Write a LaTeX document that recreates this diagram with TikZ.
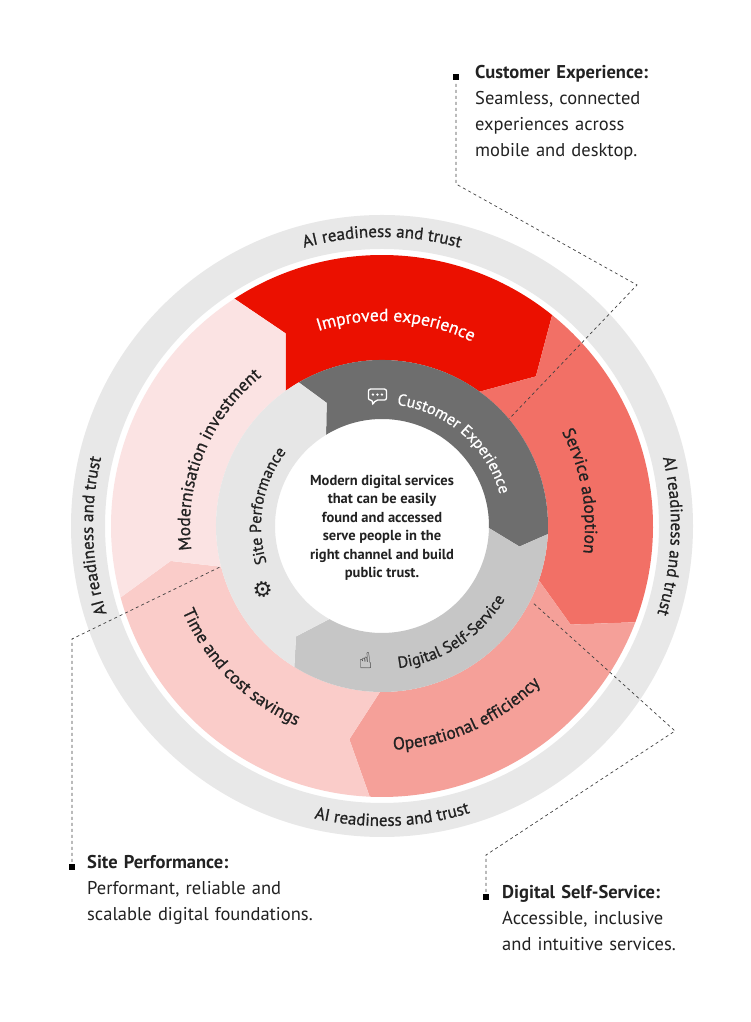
\documentclass[tikz,border=0pt]{standalone}
\usepackage{fontspec}
\setmainfont{PT Sans}
\newfontfamily\medfam{PT Sans}[FakeBold=0.9]
\newfontfamily\djv{DejaVu Sans}
\usetikzlibrary{decorations.text}
\definecolor{cImp}{HTML}{EB1000}
\definecolor{cSvc}{HTML}{F27066}
\definecolor{cOps}{HTML}{F5A099}
\definecolor{cTim}{HTML}{FACCC9}
\definecolor{cMod}{HTML}{FBE3E3}
\definecolor{cCus}{HTML}{6E6E6E}
\definecolor{cDig}{HTML}{C6C6C6}
\definecolor{cSit}{HTML}{E6E6E6}
\definecolor{cRing}{HTML}{E8E8E8}
\definecolor{cTxt}{HTML}{222222}
\newcommand{\ringf}{\medfam\fontsize{17}{20}\selectfont\color{cTxt}}
\newcommand{\midf}{\medfam\fontsize{17.5}{20}\selectfont\color{cTxt}}
\newcommand{\innf}{\medfam\fontsize{16}{19}\selectfont\color{cTxt}}
\tikzset{
  lead/.style={draw=black!75, line width=0.7pt, dash pattern=on 3pt off 3pt},
  bul/.style={fill=black, minimum size=6pt, inner sep=0pt, draw=none},
  note/.style={anchor=north west, align=left, inner sep=0pt, text width=230pt,
    font=\fontsize{18.5}{26}\selectfont, text=cTxt},
  curv/.style={decorate, decoration={text along path, text align=center, text={#1}}}
}
\begin{document}
\begin{tikzpicture}[x=1pt,y=1pt]
\useasboundingbox (0,0) rectangle (750,1022);
\fill[white] (0,0) rectangle (750,1022);
\begin{scope}[shift={(382,496)}]
  % outer ring
  \fill[cRing, even odd rule] (0,0) circle[radius=311pt] (0,0) circle[radius=277pt];
  % middle segments
  \fill[cImp] (123:271) arc[start angle=123,end angle=51.1,radius=271pt] -- (44.2:214.6) -- (54:166) arc[start angle=54,end angle=125.5,radius=166pt] -- (116.6:215.5) -- cycle;
  \fill[cSvc] (51.1:271) arc[start angle=51.1,end angle=-20.8,radius=271pt] -- (-27.6:212.9) -- (-19.1:166) arc[start angle=-19.1,end angle=54,radius=166pt] -- (44.2:214.6) -- cycle;
  \fill[cOps] (-20.8:271) arc[start angle=-20.8,end angle=-92.6,radius=271pt] -- (-98.7:215.8) -- (-90.7:166) arc[start angle=-90.7,end angle=-19.1,radius=166pt] -- (-27.6:212.9) -- cycle;
  \fill[cTim] (-92.6:271) arc[start angle=-92.6,end angle=-164.7,radius=271pt] -- (-170.6:214.2) -- (-165.8:166) arc[start angle=-165.8,end angle=-90.7,radius=166pt] -- (-98.7:215.8) -- cycle;
  \fill[cMod] (-164.7:271) arc[start angle=-164.7,end angle=-237,radius=271pt] -- (-243.4:215.5) -- (-234.5:166) arc[start angle=-234.5,end angle=-165.8,radius=166pt] -- (-170.6:214.2) -- cycle;
  % inner segments
  \fill[cCus] (120.1:166) arc[start angle=120.1,end angle=-2.8,radius=166pt] -- (-8.5:139) -- (-1.1:107) arc[start angle=-1.1,end angle=121.5,radius=107pt] -- (114.2:135) -- cycle;
  \fill[cDig] (-2.8:166) arc[start angle=-2.8,end angle=-121.9,radius=166pt] -- (-127.9:140) -- (-119.5:107) arc[start angle=-119.5,end angle=-1.1,radius=107pt] -- (-8.5:139) -- cycle;
  \fill[cSit] (-121.9:166) arc[start angle=-121.9,end angle=-239.9,radius=166pt] -- (-245.8:135) -- (-238.5:107) arc[start angle=-238.5,end angle=-119.5,radius=107pt] -- (-127.9:140) -- cycle;
  \fill[white] (0,0) circle[radius=106pt];
  % outer ring texts
  \path[curv={|\ringf|AI readiness and trust}] (130:289) arc[start angle=130,end angle=50,radius=289pt];
  \path[curv={|\ringf|AI readiness and trust}] (38:289) arc[start angle=38,end angle=-42,radius=289pt];
  \path[curv={|\ringf|AI readiness and trust}] (222:289) arc[start angle=222,end angle=142,radius=289pt];
  \path[curv={|\ringf|AI readiness and trust}] (-128:300) arc[start angle=-128,end angle=-48,radius=300pt];
  % middle texts
  \path[curv={|\midf\color{white}|Improved experience}] (130:205) arc[start angle=130,end angle=42,radius=205pt];
  \path[curv={|\midf|Service adoption}] (50:203) arc[start angle=50,end angle=-30,radius=203pt];
  \path[curv={|\midf|Operational efficiency}] (-110:224) arc[start angle=-110,end angle=-22,radius=224pt];
  \path[curv={|\midf|Time and cost savings}] (-180:217) arc[start angle=-180,end angle=-90,radius=217pt];
  \path[curv={|\midf|Modernisation investment}] (200:192) arc[start angle=200,end angle=116,radius=192pt];
  % inner texts
  \path[curv={|\innf\color{white}|Customer Experience}] (90:122) arc[start angle=90,end angle=8,radius=122pt];
  \path[curv={|\innf|Site Performance}] (210:121) arc[start angle=210,end angle=130,radius=121pt];
  \path[curv={|\innf|Digital Self-Service}] (-95:143) arc[start angle=-95,end angle=-19,radius=143pt];
  % icons
  \begin{scope}[shift={(92:130)}]
    \draw[white, line width=1.3pt, rounded corners=2pt] (-9,-4) -- (-9,7) -- (9,7) -- (9,-4) -- (-2,-4) -- (-5,-9) -- (-5,-4) -- cycle;
    \foreach \i in {-4.5,0,4.5} \fill[white] (\i,1.5) circle[radius=1.3pt];
  \end{scope}
  \node[rotate=-62, text=cTxt, font=\djv\fontsize{22}{22}\selectfont] (gear) at (208:135) {⚙};
  \node[rotate=5, text=cTxt, font=\djv\fontsize{22}{22}\selectfont] (hand) at (-97:136) {☝};
  % centre text
  \node[align=center, font=\fontsize{14.5}{18.5}\selectfont\bfseries, text=cTxt] (ctr) at (0,-2)
    {Modern digital services\\that can be easily\\found and accessed\\serve people in the\\right channel and build\\public trust.};
\end{scope}
% leader lines
\coordinate (cx1) at (456,938);
\coordinate (cx2) at (456,838);
\coordinate (cx3) at (637,737);
\coordinate (cx4) at (509,603);
\draw[lead] (cx1) -- (cx2) -- (cx3) -- (cx4);
\coordinate (sp1) at (72,160);
\coordinate (sp2) at (72,383);
\coordinate (sp3) at (220,455);
\draw[lead] (sp1) -- (sp2) -- (sp3);
\coordinate (ds1) at (486,130);
\coordinate (ds2) at (486,167);
\coordinate (ds3) at (675,291);
\coordinate (ds4) at (532,420);
\draw[lead] (ds1) -- (ds2) -- (ds3) -- (ds4);
\node[bul] (b1) at (456,945) {};
\node[bul] (b2) at (72,155) {};
\node[bul] (b3) at (486,125) {};
% notes
\node[note] (n1) at (475,957) {\textbf{Customer Experience:}\\Seamless, connected\\experiences across\\mobile and desktop.};
\node[note] (n2) at (87,167) {\textbf{Site Performance:}\\Performant, reliable and\\scalable digital foundations.};
\node[note] (n3) at (502,137) {\textbf{Digital Self-Service:}\\Accessible, inclusive\\and intuitive services.};
\end{tikzpicture}
\end{document}
